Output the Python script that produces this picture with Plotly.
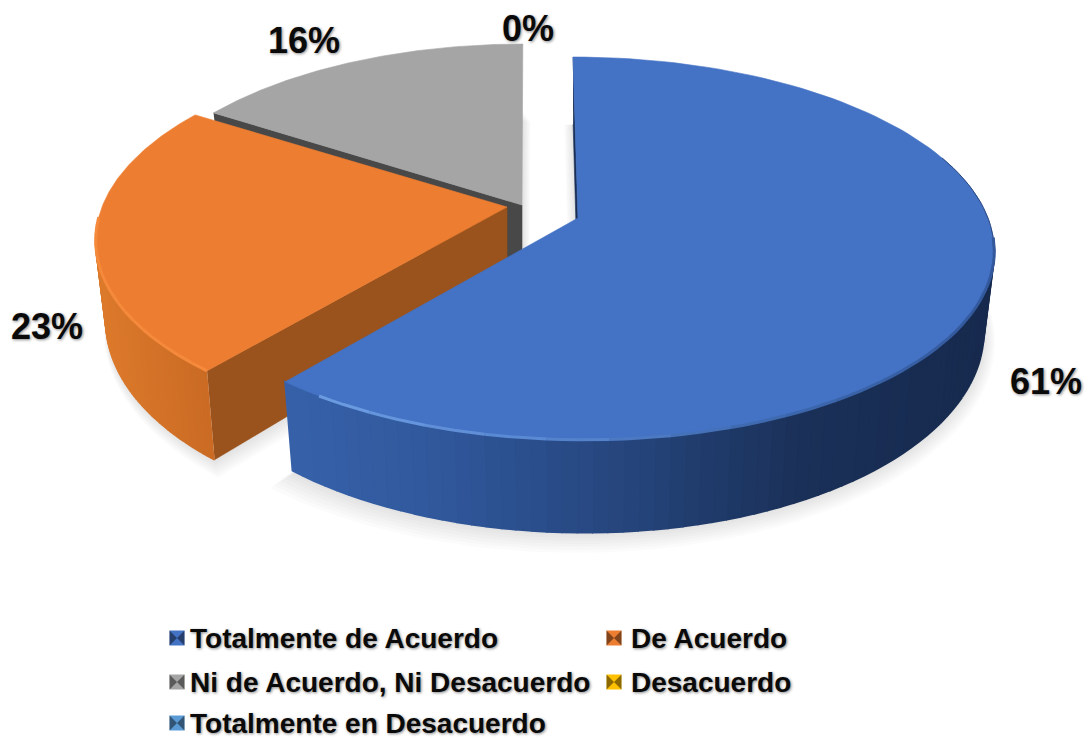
import numpy as np
import plotly.graph_objects as go

categories = ["Totalmente de Acuerdo", "De Acuerdo", "Ni de Acuerdo, Ni Desacuerdo",
              "Desacuerdo", "Totalmente en Desacuerdo"]
values = [61, 23, 16, 0, 0]
colors = ["#4472c4", "#ed7d31", "#a5a5a5", "#ffc000", "#5b9bd5"]

FONT = "Liberation Sans, Arial, sans-serif"

# perspective of the disc, worked out from the picture
PERSP = 0.159
TILT_A = -151.9
TILT_B = 218.0
DEPTH = 78
SHRINK = 0.975

# apex x, y shift, radius, skew for each visible slice
slice_geo = [
    (578, 0, 410, 0.031),
    (507, -11, 405, -0.035),
    (522, -13, 397, -0.005),
]
label_pos = [(1046, 381), (47, 326), (304, 40), (528, 28)]
legend_pos = [(177, 638), (614, 638), (177, 682), (614, 682), (177, 723)]
legend_text_x = [188, 629, 188, 629, 188]


def project(theta, r, geo):
    cx, dy, R, skew = geo
    u = r * np.sin(theta)
    v = r * np.cos(theta)
    w = 1 + PERSP * v
    y0 = (TILT_A * v + TILT_B) / w
    x = cx + R * u / w + skew * (y0 - TILT_B)
    return x, y0 + dy, w


def lower(x, y, w, geo):
    return geo[0] + (x - geo[0]) * SHRINK, y + DEPTH / w


def hex_rgb(c):
    return np.array([int(c[i:i + 2], 16) for i in (1, 3, 5)], dtype=float)


def ramp(stops, t):
    xs = [s[0] for s in stops]
    rgb = [np.interp(t, xs, [hex_rgb(s[1])[i] for s in stops]) for i in range(3)]
    return "rgb(%d,%d,%d)" % tuple(rgb)


def poly(x, y, fill, name="", width=0.6):
    return go.Scatter(x=list(x), y=list(y), mode="lines", fill="toself", fillcolor=fill,
                      line=dict(width=width, color=fill), hoverinfo="skip", showlegend=False, name=name)


def rim(x, y, color, width):
    return go.Scatter(x=list(x), y=list(y), mode="lines", line=dict(width=width, color=color),
                      hoverinfo="skip", showlegend=False)


fig = go.Figure()

fractions = np.array(values) / sum(values)
starts = np.concatenate([[0], np.cumsum(fractions)[:-1]]) * 2 * np.pi
ends = np.cumsum(fractions) * 2 * np.pi

# soft shadow under each slice
for i in range(3):
    th = np.linspace(starts[i], ends[i], 90)
    x, y, w = project(th, 1, slice_geo[i])
    bx, by = lower(x, y, w, slice_geo[i])
    ax, ay, aw = project(0.0, 0, slice_geo[i])
    ax, ay = lower(ax, ay, aw, slice_geo[i])
    px = np.append(bx, ax)
    py = np.append(by, ay)
    mx, my = px.mean(), py.mean()
    for k in range(1, 8):
        s = 1 + k * 0.007
        fig.add_trace(poly(mx + (px - mx) * s, my + (py - my) * s + k * 1.6, "rgba(0,0,0,0.016)", width=0))

side_ramps = [
    [(290, "#3762aa"), (450, "#30579a"), (640, "#25447a"), (800, "#1b3159"), (1000, "#172a4e")],
    [(100, "#dc7a2c"), (218, "#c96a24")],
    [(0, "#484848"), (1000, "#484848")],
]
rim_ramps = [
    [(290, "#6f9fe4"), (520, "#5b8ad4"), (760, "#3f6ab0"), (1000, "#33599c")],
    [(100, "#f58a3c"), (218, "#f58a3c")],
    [(0, "#a5a5a5"), (1000, "#a5a5a5")],
]
cut_colors = ["#1a2f58", "#9a531c", "#484848"]

# back to front: grey, orange, blue
for i in [2, 1, 0]:
    geo = slice_geo[i]
    th = np.linspace(starts[i], ends[i], 120)
    x, y, w = project(th, 1, geo)
    bx, by = lower(x, y, w, geo)
    ax, ay, aw = project(0.0, 0, geo)
    abx, aby = lower(ax, ay, aw, geo)

    # flat face where the slice was cut, on the side turned to the viewer
    fig.add_trace(poly([x[0], ax, abx, bx[0]], [y[0], ay, aby, by[0]], cut_colors[i]))

    # outer wall, in strips so the colour can change along it
    for j in range(len(th) - 1):
        # only the part of the wall that faces the viewer
        if np.cos(th[j]) > -0.1 or np.cos(th[j + 1]) > -0.1:
            continue
        c = ramp(side_ramps[i], (x[j] + x[j + 1]) / 2)
        fig.add_trace(poly([x[j], x[j + 1], bx[j + 1], bx[j]], [y[j], y[j + 1], by[j + 1], by[j]], c, width=2))

    # top face
    fig.add_trace(poly(np.r_[ax, x, ax], np.r_[ay, y, ay], colors[i], name=categories[i]))

    # bevel along the front edge
    for j in range(0, len(th) - 4, 4):
        if np.cos(th[j]) > -0.1:
            continue
        fig.add_trace(rim(x[j:j + 5], y[j:j + 5], ramp(rim_ramps[i], x[j + 2]), 3))

    # thin dark outline on the upper right of the blue slice
    if i == 0:
        keep = (np.cos(th) < 0.35) & (np.cos(th) > -0.12) & (np.sin(th) > 0)
        fig.add_trace(rim(x[keep], y[keep], "#2a4780", 1))

# percentage labels, the two empty categories sit on top of each other
for (lx, ly), v in zip(label_pos, values):
    fig.add_annotation(x=lx, y=ly, text=f"<b>{v}%</b>", showarrow=False, xref="x", yref="y",
                       font=dict(family=FONT, size=36, color="#0a0a0a",
                                 shadow="1px 1px 3px #888888"))

# legend drawn by hand to keep the two column grid of the original
for (lx, ly), tx, name, c in zip(legend_pos, legend_text_x, categories, colors):
    fig.add_trace(go.Scatter(x=[lx], y=[ly], mode="markers", hoverinfo="skip", showlegend=False,
                             marker=dict(symbol="square", size=15, color=c)))
    fig.add_trace(go.Scatter(x=[lx], y=[ly], mode="markers", hoverinfo="skip", showlegend=False,
                             marker=dict(symbol="bowtie", size=15, color="rgba(0,0,0,0.45)")))
    fig.add_annotation(x=tx, y=ly, text=f"<b>{name}</b>", showarrow=False, xref="x", yref="y",
                       xanchor="left", font=dict(family=FONT, size=28, color="#0a0a0a",
                                                 shadow="1px 1px 3px #888888"))

fig.update_layout(
    width=1089, height=740, margin=dict(l=0, r=0, t=0, b=0),
    paper_bgcolor="white", plot_bgcolor="white", showlegend=False,
    xaxis=dict(range=[0, 1089], visible=False, fixedrange=True),
    yaxis=dict(range=[740, 0], visible=False, fixedrange=True),
)

fig.write_html("out.html", config={"displayModeBar": False},
               post_script="document.body.style.margin='0';")
